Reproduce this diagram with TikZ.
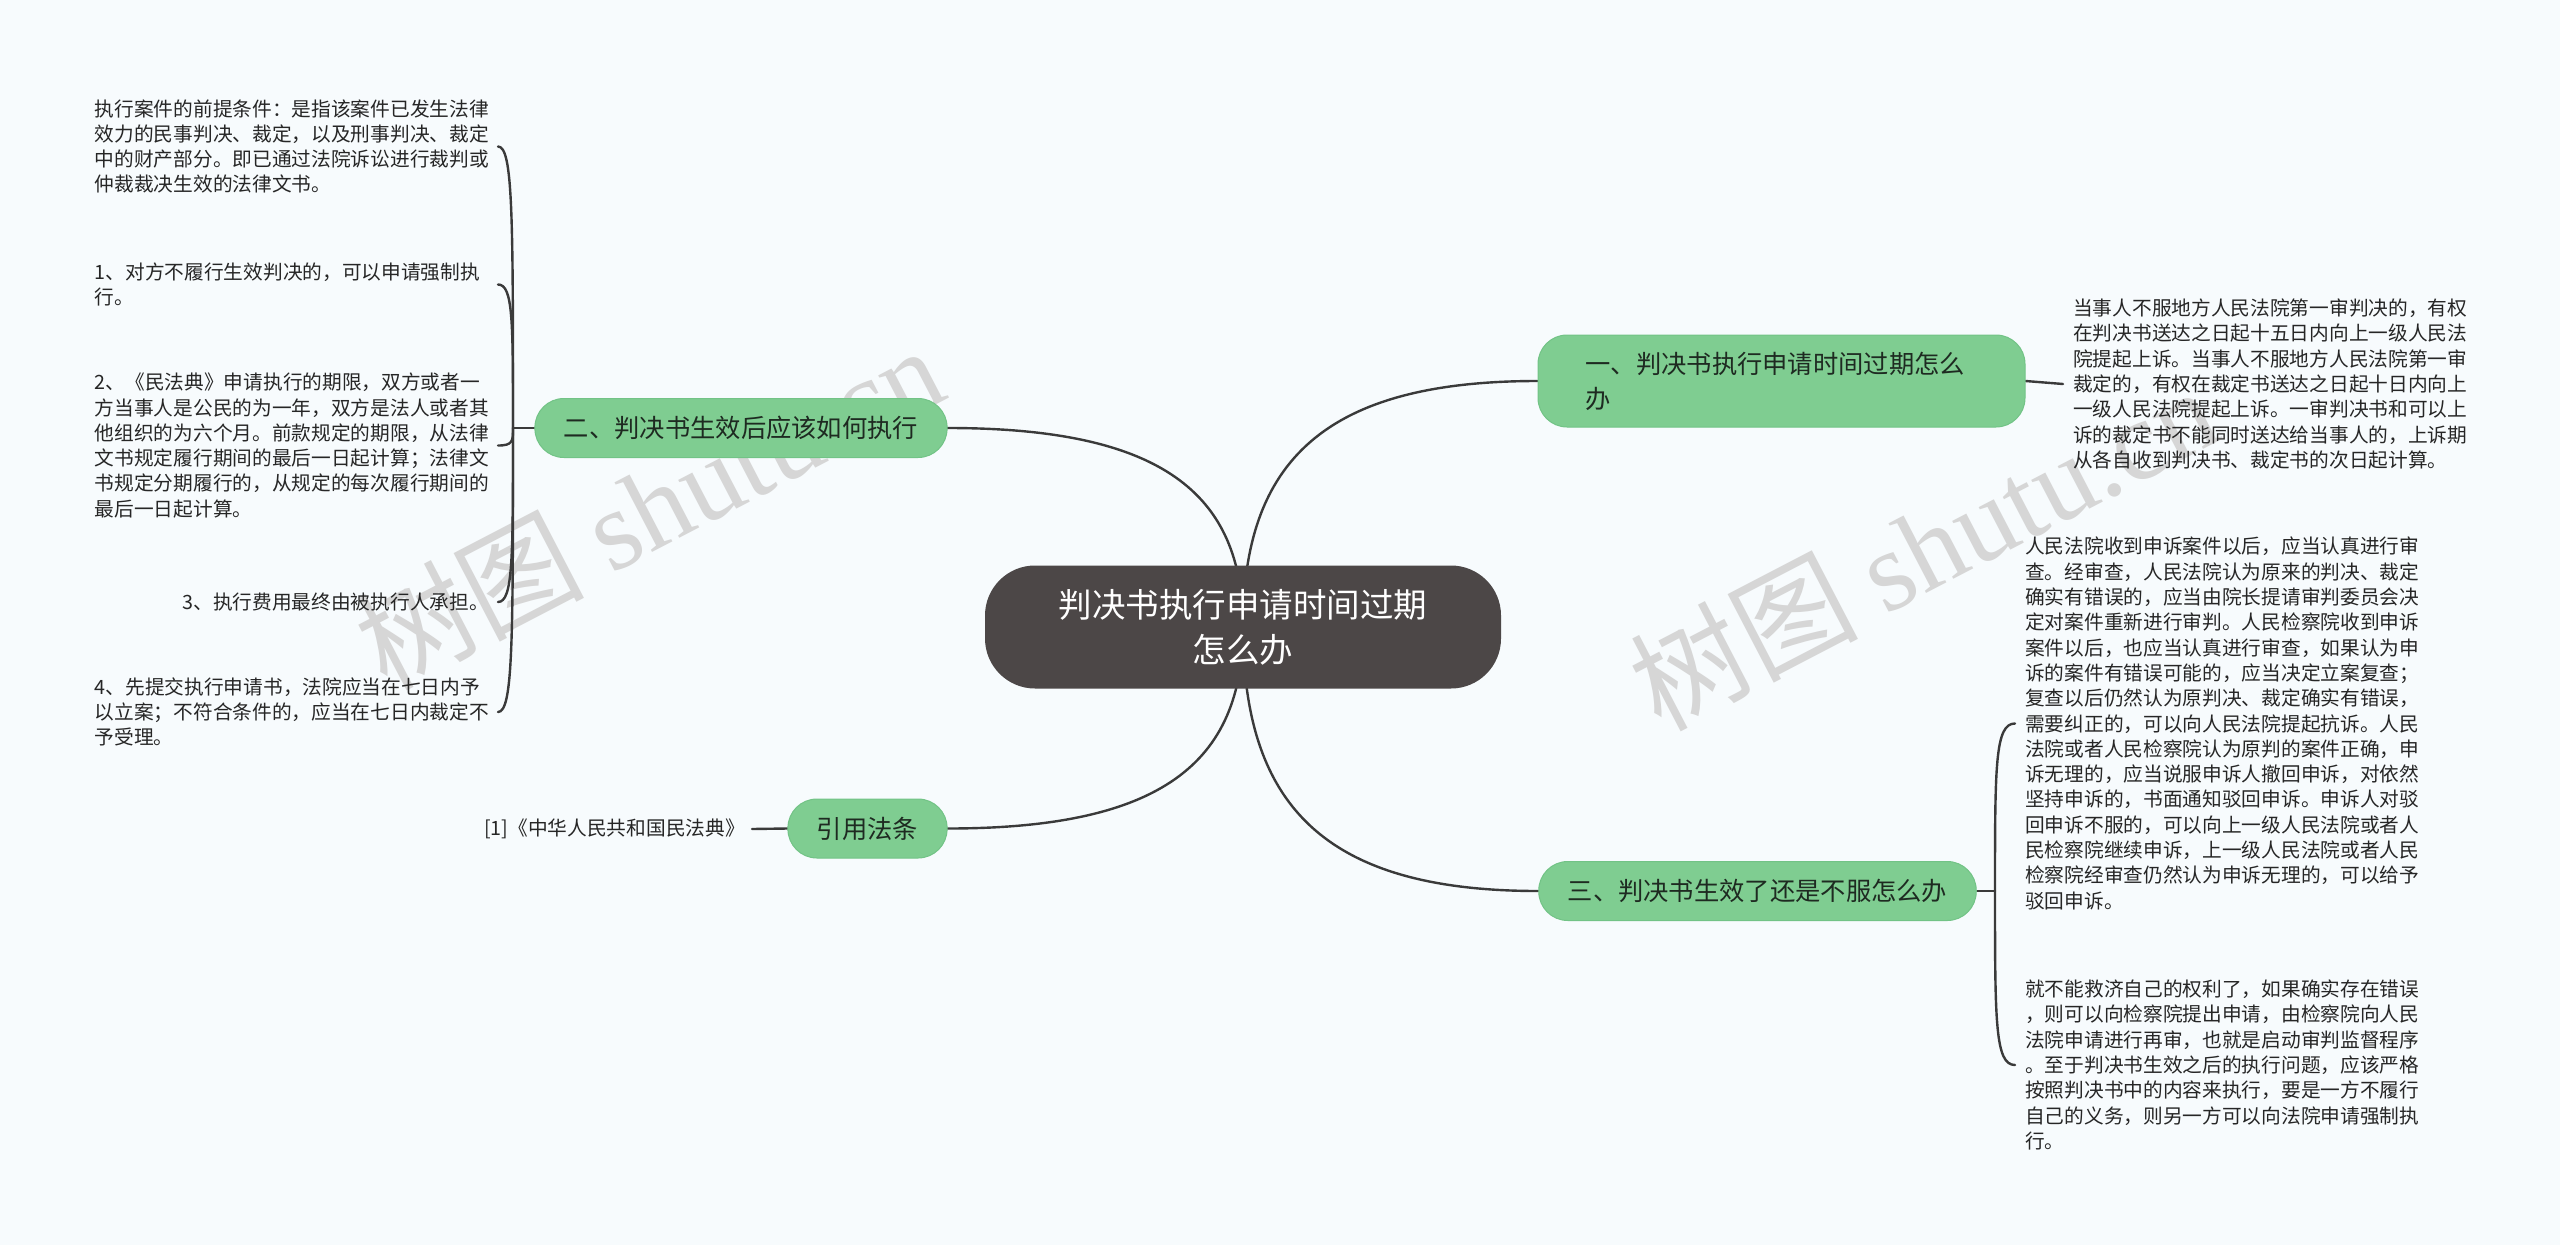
\documentclass[tikz,border=0pt]{standalone}
\usepackage{fontspec}
\setmainfont{Noto Sans CJK SC}
\newfontfamily\wmlatin{Liberation Serif}
\usetikzlibrary{backgrounds}
\definecolor{bgc}{HTML}{F7FBFD}
\definecolor{greenc}{HTML}{7FCD91}
\definecolor{greenb}{HTML}{72C386}
\definecolor{rootc}{HTML}{4C4747}
\definecolor{linec}{HTML}{3A3A3A}
\definecolor{leaftxt}{HTML}{262626}
\definecolor{gtxt}{HTML}{1E2A21}
\definecolor{wmc}{HTML}{D6D6D6}
\tikzset{
  rootbox/.style={fill=rootc, draw=none, rounded corners=50pt, text=white,
    minimum width=516pt, minimum height=123pt, align=center,
    font=\fontsize{33.5}{45}\selectfont},
  gbox/.style={fill=greenc, draw=greenb, line width=1pt, rounded corners=29pt,
    text=gtxt, minimum height=59pt, inner xsep=29pt, inner ysep=0pt,
    font=\fontsize{25.3}{35}\selectfont},
  leaf/.style={text=leaftxt, inner ysep=0pt, align=left,
    font=\fontsize{19.7}{25.3}\selectfont},
  conn/.style={draw=linec, line width=2.4pt, line cap=round},
  wm/.style={text=wmc, rotate=27.5, inner sep=0pt, font=\fontsize{114}{114}\selectfont}
}
\begin{document}
\begin{tikzpicture}[x=1pt, y=-1pt]
\useasboundingbox (0,0) rectangle (2560,1245);

% central topic
\node[rootbox] (root) at (1243,627) {判决书执行申请时间过期\\怎么办};

% main branches
\node[gbox, minimum width=487pt, minimum height=92pt, inner xsep=47.5pt,
      text width=392pt, align=left] (b1) at (1781.5,381) {一、判决书执行申请时间过期怎么\\办};
\node[gbox] (b2) at (741,428) {二、判决书生效后应该如何执行};
\node[gbox] (b3) at (1757.5,891) {三、判决书生效了还是不服怎么办};
\node[gbox] (b4) at (867.5,828.5) {引用法条};

% left leaves of b2
\node[leaf, text width=394pt, inner xsep=9pt, anchor=east] (l0) at (498,146.5)
  {执行案件的前提条件：是指该案件已发生法律\\效力的民事判决、裁定，以及刑事判决、裁定\\中的财产部分。即已通过法院诉讼进行裁判或\\仲裁裁决生效的法律文书。};
\node[leaf, text width=394pt, inner xsep=9pt, anchor=east] (l1) at (498,284.5)
  {1、对方不履行生效判决的，可以申请强制执\\行。};
\node[leaf, text width=394pt, inner xsep=9pt, anchor=east] (l2) at (498,445.5)
  {2、《民法典》申请执行的期限，双方或者一\\方当事人是公民的为一年，双方是法人或者其\\他组织的为六个月。前款规定的期限，从法律\\文书规定履行期间的最后一日起计算；法律文\\书规定分期履行的，从规定的每次履行期间的\\最后一日起计算。};
\node[leaf, inner xsep=9pt, anchor=east] (l3) at (498,602)
  {3、执行费用最终由被执行人承担。};
\node[leaf, text width=394pt, inner xsep=9pt, anchor=east] (l4) at (498,712)
  {4、先提交执行申请书，法院应当在七日内予\\以立案；不符合条件的，应当在七日内裁定不\\予受理。};

% leaf of b4
\node[leaf, inner xsep=7pt, anchor=east] (l5) at (752,829) {[1]《中华人民共和国民法典》};

% right leaves
\node[leaf, text width=394pt, inner xsep=10pt, anchor=west] (r1) at (2063,384)
  {当事人不服地方人民法院第一审判决的，有权\\在判决书送达之日起十五日内向上一级人民法\\院提起上诉。当事人不服地方人民法院第一审\\裁定的，有权在裁定书送达之日起十日内向上\\一级人民法院提起上诉。一审判决书和可以上\\诉的裁定书不能同时送达给当事人的，上诉期\\从各自收到判决书、裁定书的次日起计算。};
\node[leaf, text width=394pt, inner xsep=10pt, anchor=west] (r2) at (2015,723.5)
  {人民法院收到申诉案件以后，应当认真进行审\\查。经审查，人民法院认为原来的判决、裁定\\确实有错误的，应当由院长提请审判委员会决\\定对案件重新进行审判。人民检察院收到申诉\\案件以后，也应当认真进行审查，如果认为申\\诉的案件有错误可能的，应当决定立案复查；\\复查以后仍然认为原判决、裁定确实有错误，\\需要纠正的，可以向人民法院提起抗诉。人民\\法院或者人民检察院认为原判的案件正确，申\\诉无理的，应当说服申诉人撤回申诉，对依然\\坚持申诉的，书面通知驳回申诉。申诉人对驳\\回申诉不服的，可以向上一级人民法院或者人\\民检察院继续申诉，上一级人民法院或者人民\\检察院经审查仍然认为申诉无理的，可以给予\\驳回申诉。};
\node[leaf, text width=394pt, inner xsep=10pt, anchor=west] (r3) at (2015,1065)
  {就不能救济自己的权利了，如果确实存在错误\\，则可以向检察院提出申请，由检察院向人民\\法院申请进行再审，也就是启动审判监督程序\\。至于判决书生效之后的执行问题，应该严格\\按照判决书中的内容来执行，要是一方不履行\\自己的义务，则另一方可以向法院申请强制执\\行。};

\coordinate (jl) at (513,428);
\coordinate (jr) at (1995,891);

\begin{pgfonlayer}{background}
  \fill[bgc] (0,0) rectangle (2560,1245);
  % watermarks (behind everything else)
  \node[wm] (wm1) at (649,506) {树图 {\wmlatin shutu.cn}};
  \node[wm] (wm2) at (1923,547) {树图 {\wmlatin shutu.cn}};
  % root to main branches
  \draw[conn] (root.center) .. controls (1243,492) and (1160,428) .. (b2.east);
  \draw[conn] (root.center) .. controls (1243,460) and (1326,381) .. (b1.west);
  \draw[conn] (root.center) .. controls (1243,807) and (1326,891) .. (b3.west);
  \draw[conn] (root.center) .. controls (1243,764) and (1160,828.5) .. (b4.east);
  % b1 and b4 to leaves
  \draw[conn] (b1.east) -- (r1.west);
  \draw[conn] (b4.west) -- (l5.east);
  % bracket of b2
  \draw[conn] (b2.west) -- (jl);
  \draw[conn] (jl) .. controls (513,217) and (513,146.5) .. (l0.east);
  \draw[conn] (jl) .. controls (513,320.5) and (513,284.5) .. (l1.east);
  \draw[conn] (jl) .. controls (513,441) and (513,445.5) .. (l2.east);
  \draw[conn] (jl) .. controls (513,558.5) and (513,602) .. (l3.east);
  \draw[conn] (jl) .. controls (513,641) and (513,712) .. (l4.east);
  % bracket of b3
  \draw[conn] (b3.east) -- (jr);
  \draw[conn] (jr) .. controls (1995,765.5) and (1995,723.5) .. (r2.west);
  \draw[conn] (jr) .. controls (1995,1021.5) and (1995,1065) .. (r3.west);
\end{pgfonlayer}
\end{tikzpicture}
\end{document}
